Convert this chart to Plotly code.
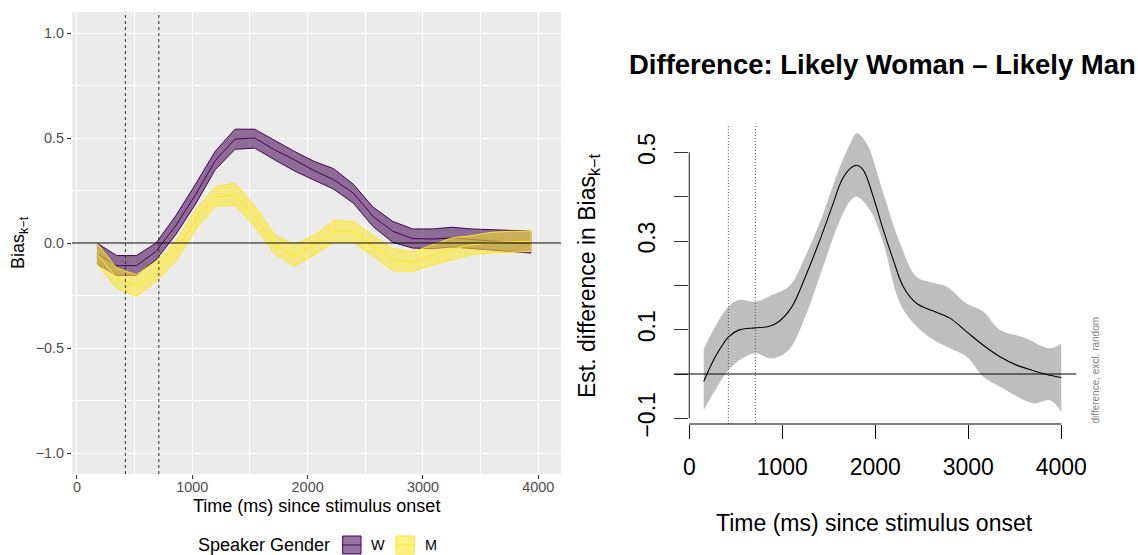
import plotly.graph_objects as go

FIG_W, FIG_H = 1138, 555
FONT = "Liberation Sans, Arial, Helvetica, sans-serif"

# ---------------- data: left panel (Bias over time by speaker gender) ----------------
time_ms = [173, 344, 515, 686, 857, 1028, 1199, 1370, 1541, 1712, 1883, 2054,
           2225, 2396, 2567, 2738, 2909, 3080, 3251, 3422, 3593, 3764, 3935]
w_upper = [0.0, -0.060, -0.060, 0.0, 0.13, 0.28, 0.437, 0.542, 0.542, 0.489, 0.437, 0.389,
           0.354, 0.28, 0.171, 0.103, 0.067, 0.067, 0.075, 0.067, 0.063, 0.059, 0.056]
w_mean = [-0.05, -0.108, -0.108, -0.04, 0.083, 0.23, 0.392, 0.495, 0.500, 0.444, 0.397, 0.345,
          0.302, 0.238, 0.127, 0.056, 0.021, 0.019, 0.024, 0.016, 0.008, 0.0, -0.005]
w_lower = [-0.10, -0.154, -0.154, -0.08, 0.04, 0.185, 0.349, 0.446, 0.452, 0.397, 0.344, 0.300,
           0.257, 0.190, 0.079, 0.003, -0.024, -0.027, -0.019, -0.024, -0.032, -0.040, -0.048]
m_upper = [0.0, -0.119, -0.151, -0.087, 0.008, 0.159, 0.267, 0.286, 0.175, 0.040, -0.008, 0.035,
           0.106, 0.103, 0.035, -0.027, -0.043, -0.008, 0.024, 0.035, 0.051, 0.056, 0.056]
m_mean = [-0.05, -0.167, -0.203, -0.135, -0.040, 0.111, 0.219, 0.230, 0.127, -0.008, -0.063, -0.010,
          0.054, 0.054, -0.016, -0.079, -0.090, -0.058, -0.028, -0.010, 0.002, 0.006, 0.008]
m_lower = [-0.10, -0.217, -0.254, -0.183, -0.087, 0.063, 0.175, 0.179, 0.079, -0.051, -0.111, -0.058,
           0.003, 0.003, -0.063, -0.132, -0.135, -0.105, -0.079, -0.055, -0.048, -0.043, -0.040]
genders = ["W", "M"]

# ---------------- data: right panel (estimated difference W - M) ----------------
fit_x = [155, 280, 423, 531, 710, 854, 961, 1104, 1247, 1391, 1534, 1642, 1731, 1800, 1871,
         1978, 2086, 2194, 2301, 2445, 2624, 2803, 2983, 3161, 3341, 3520, 3699, 3843, 4000]
fit_y = [-0.017, 0.039, 0.084, 0.099, 0.104, 0.107, 0.118, 0.152, 0.219, 0.295, 0.377, 0.438, 0.464,
         0.471, 0.460, 0.400, 0.325, 0.257, 0.197, 0.159, 0.142, 0.126, 0.095, 0.065, 0.039,
         0.020, 0.0075, -0.001, -0.008]
ci_up_x = [155, 280, 423, 531, 710, 889, 1086, 1247, 1427, 1606, 1731, 1800, 1907, 2086, 2266,
           2445, 2624, 2768, 2983, 3161, 3341, 3592, 3879, 4000]
ci_up_y = [0.056, 0.107, 0.152, 0.167, 0.163, 0.178, 0.201, 0.265, 0.355, 0.460, 0.520, 0.543,
           0.520, 0.408, 0.295, 0.219, 0.206, 0.197, 0.159, 0.141, 0.099, 0.083, 0.058, 0.069]
ci_lo_x = [155, 280, 423, 567, 710, 889, 1069, 1247, 1427, 1606, 1728, 1800, 1943, 2086, 2266,
           2445, 2624, 2803, 2983, 3161, 3341, 3520, 3699, 3879, 4000]
ci_lo_y = [-0.081, -0.036, 0.009, 0.035, 0.047, 0.035, 0.054, 0.129, 0.235, 0.340, 0.390, 0.400,
           0.370, 0.295, 0.159, 0.107, 0.077, 0.058, 0.039, -0.006, -0.029, -0.050, -0.066,
           -0.059, -0.085]

vline_ms = [420, 710]
left_xticks = [0, 1000, 2000, 3000, 4000]
left_yticks = [-1.0, -0.5, 0.0, 0.5, 1.0]
left_yticklabels = ["\u22121.0", "\u22120.5", "0.0", "0.5", "1.0"]
right_xticks = [0, 1000, 2000, 3000, 4000]
right_yticks = [-0.1, 0.0, 0.1, 0.2, 0.3, 0.4, 0.5]
right_yticklabels = ["\u22120.1", "", "0.1", "", "0.3", "", "0.5"]

# ---------------- styling ----------------
COL = {"W": ("#440154", "rgba(68,1,84,0.55)"), "M": ("#FDE725", "rgba(253,231,37,0.55)")}


def fx(p):
    return p / FIG_W


def fy(p):
    return 1 - p / FIG_H


L_X = (72, 561)
L_Y = (12, 474)
R_X = (674.4, 1076.2)
R_Y = (124, 424)

fig = go.Figure()

series = {"W": (w_upper, w_mean, w_lower), "M": (m_upper, m_mean, m_lower)}
for g in genders:
    up, mn, lo = series[g]
    line_c, fill_c = COL[g]
    fig.add_trace(go.Scatter(x=time_ms + time_ms[::-1], y=up + lo[::-1], fill="toself",
                             fillcolor=fill_c, line=dict(color=line_c, width=1),
                             mode="lines", xaxis="x", yaxis="y", hoverinfo="skip",
                             showlegend=False))
    fig.add_trace(go.Scatter(x=time_ms, y=mn, mode="lines", line=dict(color=line_c, width=1),
                             xaxis="x", yaxis="y", hoverinfo="skip", showlegend=False))

# right panel band + fit
fig.add_trace(go.Scatter(x=ci_lo_x, y=ci_lo_y, mode="lines", line=dict(width=0, shape="spline"),
                         xaxis="x2", yaxis="y2", hoverinfo="skip", showlegend=False))
fig.add_trace(go.Scatter(x=ci_up_x, y=ci_up_y, mode="lines", line=dict(width=0, shape="spline"),
                         fill="tonexty", fillcolor="#BEBEBE",
                         xaxis="x2", yaxis="y2", hoverinfo="skip", showlegend=False))
fig.add_trace(go.Scatter(x=fit_x, y=fit_y, mode="lines",
                         line=dict(color="black", width=1.1, shape="spline"),
                         xaxis="x2", yaxis="y2", hoverinfo="skip", showlegend=False))

shapes = []
# left panel gray background
shapes.append(dict(type="rect", xref="x domain", yref="y domain", x0=0, x1=1, y0=0, y1=1,
                   fillcolor="#EBEBEB", line=dict(width=0), layer="below"))
shapes.append(dict(type="line", xref="x domain", yref="y", x0=0, x1=1, y0=0, y1=0,
                   line=dict(color="black", width=1.2)))
for v in vline_ms:
    shapes.append(dict(type="line", xref="x", yref="y domain", x0=v, x1=v, y0=0, y1=1,
                       line=dict(color="#333333", width=1, dash="dot")))
# right panel
shapes.append(dict(type="line", xref="x2 domain", yref="y2", x0=0, x1=1, y0=0, y1=0,
                   line=dict(color="black", width=1.1)))
for v in vline_ms:
    shapes.append(dict(type="line", xref="x2", yref="y2 domain", x0=v, x1=v, y0=0, y1=1,
                       line=dict(color="#333333", width=0.8, dash="1px,2px")))
shapes.append(dict(type="line", xref="x2", yref="y2 domain", x0=right_xticks[0], x1=right_xticks[-1],
                   y0=0, y1=0, line=dict(color="black", width=1.1)))
shapes.append(dict(type="line", xref="x2", yref="y2", x0=0, x1=0, y0=right_yticks[0],
                   y1=right_yticks[-1], line=dict(color="#333333", width=1.1)))

# legend keys (left panel)
for (x0, x1), g in zip([(342.7, 361), (396, 414.3)], genders):
    line_c, fill_c = COL[g]
    shapes.append(dict(type="rect", xref="paper", yref="paper", x0=fx(x0), x1=fx(x1),
                       y0=fy(554), y1=fy(536), fillcolor=fill_c, line=dict(color=line_c, width=1)))
    shapes.append(dict(type="line", xref="paper", yref="paper", x0=fx(x0), x1=fx(x1),
                       y0=fy(545), y1=fy(545), line=dict(color=line_c, width=1)))

ann = []
ann.append(dict(text="Time (ms) since stimulus onset", x=fx(316.5), y=fy(506), xref="paper", yref="paper",
                showarrow=False, font=dict(family=FONT, size=18, color="black"),
                xanchor="center", yanchor="middle"))
ann.append(dict(text="Bias<sub>k\u2212t</sub>", x=fx(20), y=fy(243), xref="paper", yref="paper",
                showarrow=False, textangle=-90, font=dict(family=FONT, size=18, color="black"),
                xanchor="center", yanchor="middle"))
ann.append(dict(text="Speaker Gender", x=fx(196), y=fy(545), xref="paper", yref="paper",
                showarrow=False, font=dict(family=FONT, size=18, color="black"),
                xanchor="left", yanchor="middle"))
for xc, g in zip([378, 431], genders):
    ann.append(dict(text=g, x=fx(xc), y=fy(545), xref="paper", yref="paper", showarrow=False,
                    font=dict(family=FONT, size=14.4, color="black"), xanchor="center", yanchor="middle"))
# right panel texts
ann.append(dict(text="<b>Difference: Likely Woman \u2013 Likely Man</b>", x=fx(627), y=fy(64),
                xref="paper", yref="paper", showarrow=False,
                font=dict(family=FONT, size=27.5, color="black"), xanchor="left", yanchor="middle"))
ann.append(dict(text="Time (ms) since stimulus onset", x=fx(875), y=fy(523), xref="paper", yref="paper",
                showarrow=False, font=dict(family=FONT, size=23, color="black"),
                xanchor="center", yanchor="middle"))
ann.append(dict(text="Est. difference in Bias<sub>k\u2212t</sub>", x=fx(588), y=fy(276), xref="paper",
                yref="paper", showarrow=False, textangle=-90,
                font=dict(family=FONT, size=23, color="black"), xanchor="center", yanchor="middle"))
ann.append(dict(text="difference, excl. random", x=fx(1095), y=fy(426), xref="paper", yref="paper",
                showarrow=False, textangle=-90, font=dict(family=FONT, size=10, color="#808080"),
                xanchor="center", yanchor="bottom"))

fig.update_layout(
    width=FIG_W, height=FIG_H, margin=dict(l=0, r=0, t=0, b=0, autoexpand=False),
    paper_bgcolor="white", plot_bgcolor="white", showlegend=False,
    font=dict(family=FONT),
    xaxis=dict(domain=[fx(L_X[0]), fx(L_X[1])], range=[-43, 4197], tickvals=left_xticks,
               ticks="outside", ticklen=4, tickwidth=1, tickcolor="#333333",
               tickfont=dict(family=FONT, size=14.4, color="#4D4D4D"), ticklabelstandoff=-4,
               showgrid=True, gridcolor="white", gridwidth=1.1, zeroline=False, showline=False,
               minor=dict(tickvals=[500, 1500, 2500, 3500], showgrid=True, gridcolor="white",
                          gridwidth=0.55, ticks=""),
               anchor="y", fixedrange=True, automargin=False),
    yaxis=dict(domain=[fy(L_Y[1]), fy(L_Y[0])], range=[-1.1, 1.1], tickvals=left_yticks,
               ticktext=left_yticklabels, ticks="outside", ticklen=4, tickwidth=1, tickcolor="#333333",
               tickfont=dict(family=FONT, size=14.4, color="#4D4D4D"),
               showgrid=True, gridcolor="white", gridwidth=1.1, zeroline=False, showline=False,
               minor=dict(tickvals=[-0.75, -0.25, 0.25, 0.75], showgrid=True, gridcolor="white",
                          gridwidth=0.55, ticks=""),
               anchor="x", fixedrange=True, automargin=False),
    xaxis2=dict(domain=[fx(R_X[0]), fx(R_X[1])], range=[-160, 4160], tickvals=right_xticks,
                ticks="outside", ticklen=14, tickwidth=1.1, tickcolor="black",
                tickfont=dict(family=FONT, size=23, color="black"), ticklabelstandoff=8,
                showgrid=False, zeroline=False, showline=False, anchor="y2", fixedrange=True,
                automargin=False),
    yaxis2=dict(domain=[fy(R_Y[1]), fy(R_Y[0])], range=[-0.1128, 0.564], tickvals=right_yticks,
                ticktext=right_yticklabels, ticks="inside", ticklen=14, tickwidth=1.1,
                tickcolor="#333333", tickangle=-90, ticklabelstandoff=14,
                tickfont=dict(family=FONT, size=23, color="black"),
                showgrid=False, zeroline=False, showline=False, anchor="x2", fixedrange=True,
                automargin=False),
    shapes=shapes, annotations=ann,
)

fig.write_html("out.html", config={"displayModeBar": False},
               post_script="document.body.style.margin='0px';document.body.style.overflow='hidden';")
